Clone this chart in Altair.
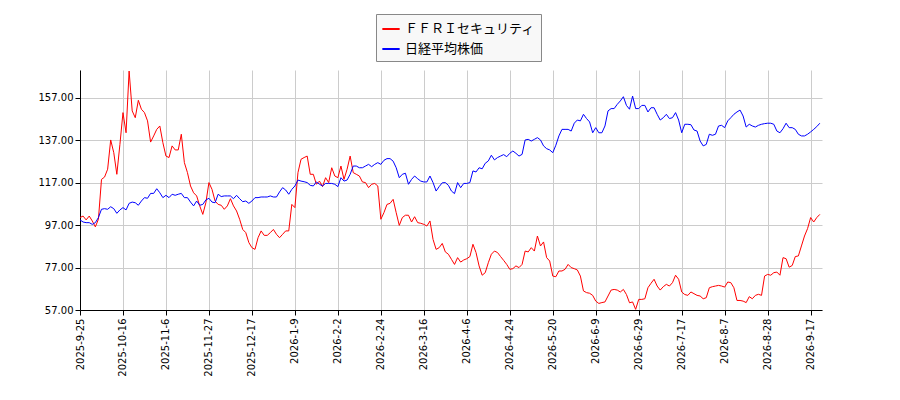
import altair as alt
import pandas as pd

# tick labels (one every 14 trading days)
tick_labels = [
    "2025-9-25", "2025-10-16", "2025-11-6", "2025-11-27", "2025-12-17",
    "2026-1-9", "2026-2-2", "2026-2-24", "2026-3-16", "2026-4-6",
    "2026-4-24", "2026-5-20", "2026-6-9", "2026-6-29", "2026-7-17",
    "2026-8-7", "2026-8-28", "2026-9-17",
]
tick_step = 14

series_names = ["ＦＦＲＩセキュリティ", "日経平均株価"]

ffri = [
    100.6, 101.3, 99.5, 101.3, 99.0, 96.2, 99.8, 118.6, 119.7, 123.4,
    137.2, 131.2, 121.0, 135.1, 150.1, 140.6, 169.7, 150.9, 147.7, 155.9,
    151.7, 150.1, 146.2, 136.2, 139.1, 142.2, 143.8, 135.9, 129.6, 128.9,
    134.4, 132.5, 132.5, 139.9, 126.5, 121.8, 115.5, 112.3, 110.8, 106.1,
    102.1, 107.6, 117.1, 113.9, 108.4, 106.8, 106.4, 104.5, 106.1, 109.5,
    106.1, 103.7, 99.8, 95.0, 93.5, 88.8, 86.4, 85.6, 91.1, 94.3,
    92.2, 92.2, 93.5, 95.0, 92.7, 91.1, 92.7, 94.3, 94.3, 106.8,
    105.3, 121.8, 128.1, 128.9, 129.6, 121.0, 121.0, 116.3, 117.8, 115.2,
    119.4, 117.1, 124.1, 120.2, 119.4, 124.9, 118.6, 123.4, 129.6, 121.8,
    121.0, 120.2, 117.4, 117.1, 114.7, 116.3, 116.7, 115.5, 99.8, 102.9,
    106.8, 107.3, 109.2, 102.9, 96.9, 100.6, 101.7, 101.7, 98.5, 101.0,
    98.2, 97.9, 97.4, 96.6, 99.0, 90.3, 85.6, 86.4, 88.4, 84.4,
    83.3, 80.9, 78.5, 81.7, 79.6, 80.6, 81.2, 82.2, 88.0, 84.1,
    77.8, 73.4, 74.6, 79.3, 83.3, 84.8, 84.1, 82.2, 80.4, 78.5,
    76.2, 76.5, 77.8, 77.0, 78.5, 84.8, 84.4, 86.4, 84.8, 91.9,
    87.2, 89.1, 81.7, 80.1, 73.0, 72.7, 75.4, 75.4, 76.2, 78.5,
    77.0, 76.5, 75.9, 73.0, 66.0, 65.2, 64.9, 63.9, 61.2, 60.1,
    60.5, 60.8, 63.6, 66.4, 66.7, 66.4, 65.5, 66.7, 64.3, 60.4,
    60.8, 57.3, 62.0, 62.0, 62.3, 67.5, 69.6, 71.5, 68.3, 66.4,
    68.0, 69.1, 68.3, 69.9, 73.4, 71.5, 65.5, 64.3, 63.9, 65.5,
    64.7, 63.9, 63.6, 62.3, 62.8, 67.5, 68.0, 68.3, 68.6, 68.3,
    67.8, 70.2, 69.9, 67.5, 61.5, 61.5, 61.2, 60.5, 63.3, 62.3,
    63.9, 64.4, 63.9, 73.0, 73.8, 73.4, 74.6, 74.9, 73.4, 81.7,
    81.2, 77.2, 78.0, 82.2, 82.5, 87.2, 91.9, 95.4, 100.6, 98.5,
    100.6, 102.1,
]

nikkei = [
    99.5, 98.5, 98.2, 98.2, 97.4, 98.2, 100.6, 104.5, 104.8, 104.5,
    105.7, 104.8, 102.6, 104.2, 105.3, 104.2, 107.3, 107.9, 107.6, 106.4,
    108.4, 110.0, 109.7, 112.0, 112.0, 114.2, 112.3, 110.0, 111.1, 110.0,
    111.6, 111.1, 111.6, 112.0, 110.0, 110.0, 107.9, 106.1, 108.4, 106.4,
    106.8, 108.9, 109.7, 107.9, 107.6, 111.6, 110.5, 110.8, 110.8, 110.8,
    109.5, 111.1, 109.5, 108.1, 108.4, 107.3, 108.4, 110.0, 110.0, 110.3,
    110.3, 110.3, 110.8, 110.3, 110.3, 112.7, 114.7, 113.6, 111.6, 113.9,
    115.5, 118.3, 117.8, 117.5, 117.1, 115.8, 115.5, 117.4, 116.3, 115.5,
    116.7, 116.7, 116.7, 116.3, 115.2, 119.4, 117.8, 118.3, 121.0, 124.9,
    124.9, 124.1, 124.1, 124.9, 125.7, 124.6, 125.7, 126.5, 125.7, 127.6,
    128.4, 128.4, 127.2, 124.1, 119.4, 121.0, 121.5, 116.3, 118.6, 120.2,
    118.9, 117.8, 117.4, 117.4, 120.2, 117.1, 113.1, 115.2, 117.0, 117.1,
    115.8, 113.1, 111.9, 117.1, 114.7, 116.7, 116.7, 117.1, 122.6, 122.1,
    124.1, 123.6, 126.2, 127.3, 130.0, 127.8, 128.9, 129.6, 130.3, 129.3,
    130.9, 132.0, 130.9, 129.6, 130.4, 137.2, 137.5, 136.7, 137.5, 138.3,
    137.2, 134.4, 133.1, 132.5, 131.2, 134.7, 139.1, 142.2, 142.2, 142.2,
    141.4, 145.1, 146.6, 146.2, 149.3, 147.3, 145.7, 140.6, 143.0, 140.6,
    140.6, 143.8, 150.9, 152.0, 152.0, 154.0, 155.6, 157.6, 153.5, 151.7,
    157.9, 152.0, 152.0, 153.5, 153.5, 150.4, 152.4, 152.4, 149.3, 146.6,
    147.7, 149.3, 147.3, 147.7, 150.1, 146.6, 140.6, 144.6, 144.6, 144.4,
    141.9, 141.4, 136.7, 134.4, 135.1, 139.9, 139.4, 139.9, 143.8, 144.1,
    143.0, 146.2, 147.7, 149.3, 150.4, 151.3, 148.5, 143.3, 144.6, 143.8,
    143.3, 144.1, 144.6, 144.9, 145.1, 145.1, 144.6, 141.4, 140.6, 142.5,
    145.1, 143.0, 143.0, 142.2, 139.9, 139.1, 139.1, 139.9, 141.0, 142.2,
    143.5, 145.1,
]

y_ticks = [57, 77, 97, 117, 137, 157]

df = pd.concat([
    pd.DataFrame({"idx": range(len(ffri)), "value": ffri, "series": series_names[0]}),
    pd.DataFrame({"idx": range(len(nikkei)), "value": nikkei, "series": series_names[1]}),
])

label_expr = "[" + ",".join(f"'{t}'" for t in tick_labels) + f"][round(datum.value / {tick_step})]"

chart = (
    alt.Chart(df)
    .mark_line(strokeWidth=1, interpolate="linear")
    .encode(
        x=alt.X(
            "idx:Q",
            title=None,
            scale=alt.Scale(domain=[0, 241.7], nice=False, zero=False),
            axis=alt.Axis(
                values=[i * tick_step for i in range(len(tick_labels))],
                labelExpr=label_expr,
                labelAngle=270,
                labelFont="DejaVu Sans",
                labelFontSize=10,
                labelColor="#000000",
                domainColor="#000000",
                tickColor="#000000",
                gridColor="#cccccc",
                labelPadding=3,
            ),
        ),
        y=alt.Y(
            "value:Q",
            title=None,
            scale=alt.Scale(domain=[57, 170.2], nice=False, zero=False),
            axis=alt.Axis(
                values=y_ticks,
                format=".2f",
                labelFont="DejaVu Sans",
                labelFontSize=10,
                labelColor="#000000",
                domainColor="#000000",
                tickColor="#000000",
                gridColor="#cccccc",
            ),
        ),
        color=alt.Color(
            "series:N",
            scale=alt.Scale(domain=series_names, range=["#ff0000", "#0000ff"]),
            legend=alt.Legend(
                title=None,
                orient="none",
                legendX=296,
                legendY=-56,
                symbolType="stroke",
                symbolStrokeWidth=2,
                symbolSize=300,
                labelFont="Noto Sans CJK JP",
                labelFontSize=13,
                labelColor="#000000",
                strokeColor="#888888",
                fillColor="#f8f8f8",
                padding=5,
                rowPadding=3,
            ),
        ),
    )
    .properties(
        width=742,
        height=240,
        autosize=alt.AutoSizeParams(type="none"),
        padding={"left": 72, "top": 62, "right": 30, "bottom": 80},
    )
    .configure_view(stroke=None, strokeWidth=0)
)

chart.save("out.html", embed_options={"renderer": "svg", "actions": False})
